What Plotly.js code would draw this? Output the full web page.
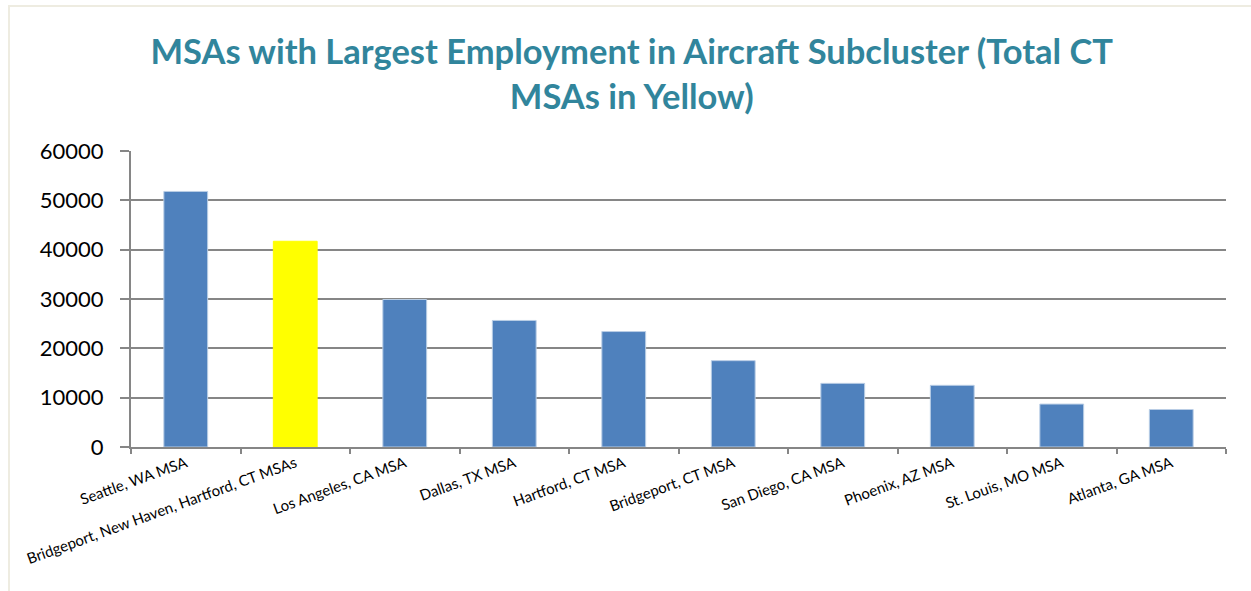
<!DOCTYPE html>
<html>
<head>
<meta charset="utf-8">
<script src="https://cdn.plot.ly/plotly-3.0.1.min.js"></script>
<style>
  html, body { margin: 0; padding: 0; background: #ffffff; }
  #wrap { position: relative; width: 1251px; height: 591px; overflow: hidden; }
  #chart { position: absolute; left: 0; top: 0; width: 1251px; height: 591px; }
  #frame { position: absolute; left: 8px; top: 5px; width: 1300px; height: 700px;
           border-top: 2px solid #EEECE1; border-left: 2px solid #EEECE1; pointer-events: none; }
</style>
</head>
<body>
<div id="wrap">
  <div id="chart"></div>
  <div id="frame"></div>
</div>
<script>
const categories = [
  "Seattle, WA MSA",
  "Bridgeport, New Haven, Hartford, CT MSAs",
  "Los Angeles, CA MSA",
  "Dallas, TX MSA",
  "Hartford, CT MSA",
  "Bridgeport, CT MSA",
  "San Diego, CA MSA",
  "Phoenix, AZ MSA",
  "St. Louis, MO MSA",
  "Atlanta, GA MSA"
];
const employment = [51800, 41700, 29900, 25650, 23400, 17500, 12900, 12500, 8700, 7600];
const isCTTotal = [false, true, false, false, false, false, false, false, false, false];
const yTickValues = [0, 10000, 20000, 30000, 40000, 50000, 60000];
const yTickLabels = ["0", "10000", "20000", "30000", "40000", "50000", "60000"];

const BLUE = "#4F81BD";
const YELLOW = "#FFFF00";
const GRID = "#868686";

const trace = {
  type: "bar",
  x: categories,
  y: employment,
  width: 0.4,
  marker: {
    color: isCTTotal.map(c => c ? YELLOW : BLUE),
    line: { color: isCTTotal.map(c => c ? YELLOW : "#B9CDE5"), width: 1 }
  },
  hoverinfo: "x+y"
};

const layout = {
  width: 1251,
  height: 591,
  margin: { l: 131, r: 25, t: 151, b: 144, pad: 0 },
  paper_bgcolor: "#ffffff",
  plot_bgcolor: "#ffffff",
  showlegend: false,
  font: { family: "Lato, 'DejaVu Sans', sans-serif", color: "#000000" },
  title: {
    text: "MSAs with Largest Employment in Aircraft Subcluster (Total CT<br>MSAs in Yellow)",
    font: { family: "Lato, sans-serif", size: 34.5, color: "#31859C", weight: "bold" },
    xref: "container", yref: "container",
    x: 0.505, xanchor: "center",
    y: 1 - 64 / 591, yanchor: "top"
  },
  xaxis: {
    type: "category",
    showline: true, linecolor: GRID, linewidth: 2,
    ticks: "outside", ticklen: 5, tickcolor: GRID, tickwidth: 2,
    tickson: "boundaries",
    showgrid: false,
    tickangle: -20,
    tickfont: { family: "Lato, sans-serif", size: 15, color: "#000000" },
    fixedrange: true
  },
  yaxis: {
    range: [0, 60000],
    tickvals: yTickValues,
    ticktext: yTickLabels,
    showline: true, linecolor: GRID, linewidth: 2,
    ticks: "outside", ticklen: 9, tickcolor: GRID, tickwidth: 2,
    showgrid: true, gridcolor: GRID, gridwidth: 2,
    zeroline: false,
    ticklabelstandoff: 12,
    tickfont: { family: "Lato, sans-serif", size: 22, color: "#000000" },
    fixedrange: true
  }
};

Plotly.newPlot("chart", [trace], layout, { displayModeBar: false, staticPlot: true });
</script>
</body>
</html>
